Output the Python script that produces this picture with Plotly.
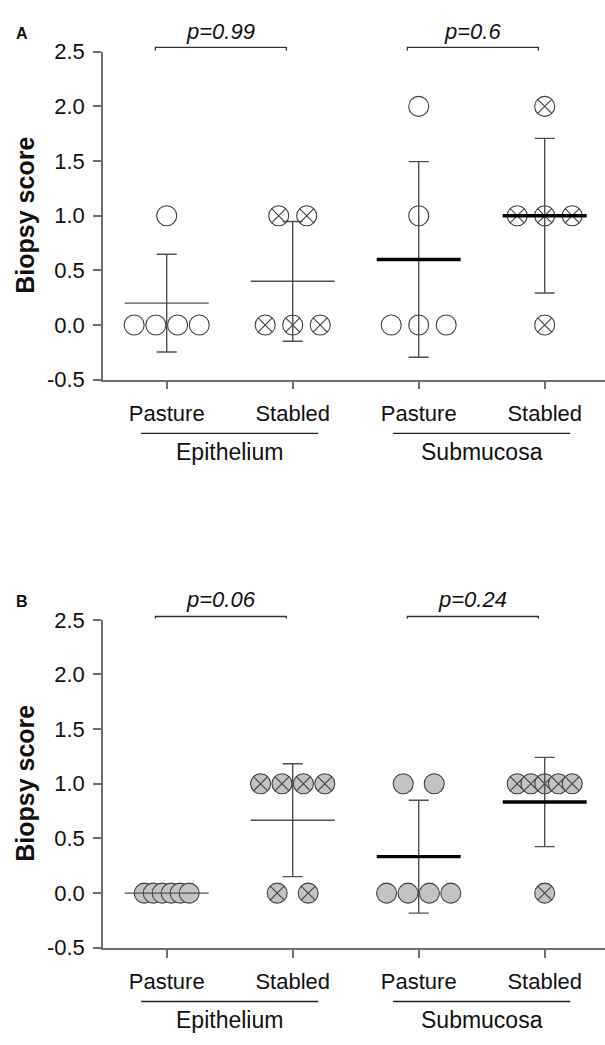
import numpy as np
import plotly.graph_objects as go

# ---------------- data ----------------
categories = ["Pasture", "Stabled", "Pasture", "Stabled"]
tissues = ["Epithelium", "Submucosa"]
panel_labels = ["A", "B"]
p_values_A = ["p=0.99", "p=0.6"]
p_values_B = ["p=0.06", "p=0.24"]

A_epi_pasture = [1, 0, 0, 0, 0]
A_epi_stabled = [1, 1, 0, 0, 0]
A_sub_pasture = [2, 1, 0, 0, 0]
A_sub_stabled = [2, 1, 1, 1, 0]

B_epi_pasture = [0, 0, 0, 0, 0, 0]
B_epi_stabled = [1, 1, 1, 1, 0, 0]
B_sub_pasture = [1, 1, 0, 0, 0, 0]
B_sub_stabled = [1, 1, 1, 1, 1, 0]

y_ticks = [-0.5, 0.0, 0.5, 1.0, 1.5, 2.0, 2.5]
y_ticklabels = ["-0.5", "0.0", "0.5", "1.0", "1.5", "2.0", "2.5"]

# ---------------- layout constants ----------------
W, H = 605, 1045
FONT = "Liberation Sans, Arial, sans-serif"
PX_PER_CAT = 126.0
X0_PX = 103.0          # y-axis position
CAT0_PX = 166.7        # first category centre
x_range = [(X0_PX - CAT0_PX) / PX_PER_CAT, (W - CAT0_PX) / PX_PER_CAT]
y_range = [-0.5, 2.5]

def py(p):
    return 1 - p / H

panels = [
    dict(label="A", top=40.7, bottom=376.7, pvals=p_values_A,
         groups=[A_epi_pasture, A_epi_stabled, A_sub_pasture, A_sub_stabled],
         fill="white", spacing={1: 0, 2: 28, 3: 27.5, 4: 21.7, 5: 18, 6: 14},
         xa="x", ya="y"),
    dict(label="B", top=622.7, bottom=958.7, pvals=p_values_B,
         groups=[B_epi_pasture, B_epi_stabled, B_sub_pasture, B_sub_stabled],
         fill="#c3c3c3", spacing={1: 0, 2: 31, 3: 26, 4: 21.4, 5: 13.75, 6: 9},
         xa="x2", ya="y2"),
]

AXIS_COL = "#6e6e6e"
ERR_COL = "#505050"
MK_LINE = "#404040"
TXT_COL = "#111111"

fig = go.Figure()
shapes = []
annotations = []

for pi, pn in enumerate(panels):
    d0, d1 = py(pn["bottom"]), py(pn["top"])

    def to_paper(v, d0=d0, d1=d1):
        return d0 + (v - y_range[0]) / (y_range[1] - y_range[0]) * (d1 - d0)

    for gi, vals in enumerate(pn["groups"]):
        vals = np.array(vals, dtype=float)
        symbol = "circle" if gi % 2 == 0 else "circle-x"
        xs, ys = [], []
        for v in sorted(set(vals.tolist()), reverse=True):
            k = int((vals == v).sum())
            s = pn["spacing"][k] / PX_PER_CAT
            for j in range(k):
                xs.append(gi + (j - (k - 1) / 2) * s)
                ys.append(v)
        fig.add_trace(go.Scatter(
            x=xs, y=ys, mode="markers", xaxis=pn["xa"], yaxis=pn["ya"],
            marker=dict(symbol=symbol, size=20, color=pn["fill"],
                        line=dict(color=MK_LINE, width=1.1)),
            showlegend=False, hoverinfo="skip", cliponaxis=False))

    for gi, vals in enumerate(pn["groups"]):
        vals = np.array(vals, dtype=float)
        m = float(vals.mean())
        sd = float(vals.std(ddof=1))
        # error bar
        fig.add_trace(go.Scatter(
            x=[gi], y=[m], mode="markers", xaxis=pn["xa"], yaxis=pn["ya"],
            marker=dict(size=1, color="rgba(0,0,0,0)"),
            error_y=dict(type="data", array=[sd], visible=bool(sd > 0),
                         color=ERR_COL, thickness=1.4, width=10),
            showlegend=False, hoverinfo="skip"))
        # mean line
        thick = gi >= 2
        fig.add_trace(go.Scatter(
            x=[gi - 0.333, gi + 0.333], y=[m, m], mode="lines",
            xaxis=pn["xa"], yaxis=pn["ya"],
            line=dict(color="#000000" if thick else ERR_COL,
                      width=3.4 if thick else 1.4),
            showlegend=False, hoverinfo="skip"))

    # p-value brackets
    y_line = 2.54 if pi == 0 else 2.53
    y_tick = 2.512
    for ti in range(2):
        g = 2 * ti
        xl, xr = g - 0.09, g + 0.95
        shapes.append(dict(
            type="path", xref=pn["xa"], yref="paper",
            path=f"M {xl} {to_paper(y_tick)} L {xl} {to_paper(y_line)} "
                 f"L {xr} {to_paper(y_line)} L {xr} {to_paper(y_tick)}",
            line=dict(color="#333333", width=1.3)))
        annotations.append(dict(
            x=(xl + xr) / 2, y=py(pn["top"] - 21), xref=pn["xa"], yref="paper",
            text=f"<i>{pn['pvals'][ti]}</i>", showarrow=False,
            xanchor="center", yanchor="middle",
            font=dict(family=FONT, size=22, color=TXT_COL)))

    # tissue group lines + labels
    off = pn["bottom"] - 376.7
    for ti, tname in enumerate(tissues):
        c = 2 * ti + 0.5
        shapes.append(dict(
            type="line", xref=pn["xa"], yref="paper",
            x0=c - 0.703, x1=c + 0.703,
            y0=py(431.7 + off), y1=py(431.7 + off),
            line=dict(color="#222222", width=1.4)))
        annotations.append(dict(
            x=c, y=py(451 + off), xref=pn["xa"], yref="paper",
            text=tname, showarrow=False, xanchor="center", yanchor="middle",
            font=dict(family=FONT, size=23, color=TXT_COL)))

    # panel letter
    annotations.append(dict(
        x=22 / W, y=py(pn["top"] - 18.5), xref="paper", yref="paper",
        text=f"<b>{pn['label']}</b>", showarrow=False,
        xanchor="center", yanchor="middle",
        font=dict(family=FONT, size=16, color=TXT_COL)))

    # y title
    annotations.append(dict(
        x=25 / W, y=(d0 + d1) / 2, xref="paper", yref="paper",
        text="<b>Biopsy score</b>", showarrow=False, textangle=-90,
        xanchor="center", yanchor="middle",
        font=dict(family=FONT, size=25, color=TXT_COL)))

    axis_common = dict(showgrid=False, zeroline=False, showline=True,
                       linecolor=AXIS_COL, linewidth=1.5, ticks="outside",
                       ticklen=8, tickwidth=1.5, tickcolor=AXIS_COL)
    xkey = "xaxis" if pi == 0 else "xaxis2"
    ykey = "yaxis" if pi == 0 else "yaxis2"
    fig.update_layout(**{
        xkey: dict(domain=[X0_PX / W, 1.0], range=x_range, anchor=pn["ya"],
                   tickvals=[0, 1, 2, 3], ticktext=categories,
                   tickfont=dict(family=FONT, size=22, color=TXT_COL),
                   ticklabelstandoff=5, **axis_common),
        ykey: dict(domain=[d0, d1], range=y_range, anchor=pn["xa"],
                   tickvals=y_ticks, ticktext=y_ticklabels,
                   tickfont=dict(family=FONT, size=22, color=TXT_COL),
                   ticklabelstandoff=4, **axis_common),
    })

fig.update_layout(width=W, height=H, margin=dict(l=0, r=0, t=0, b=0),
                  paper_bgcolor="white", plot_bgcolor="white",
                  shapes=shapes, annotations=annotations, showlegend=False)

fig.write_html("out.html", config={"displayModeBar": False},
               post_script="document.body.style.margin='0';")
